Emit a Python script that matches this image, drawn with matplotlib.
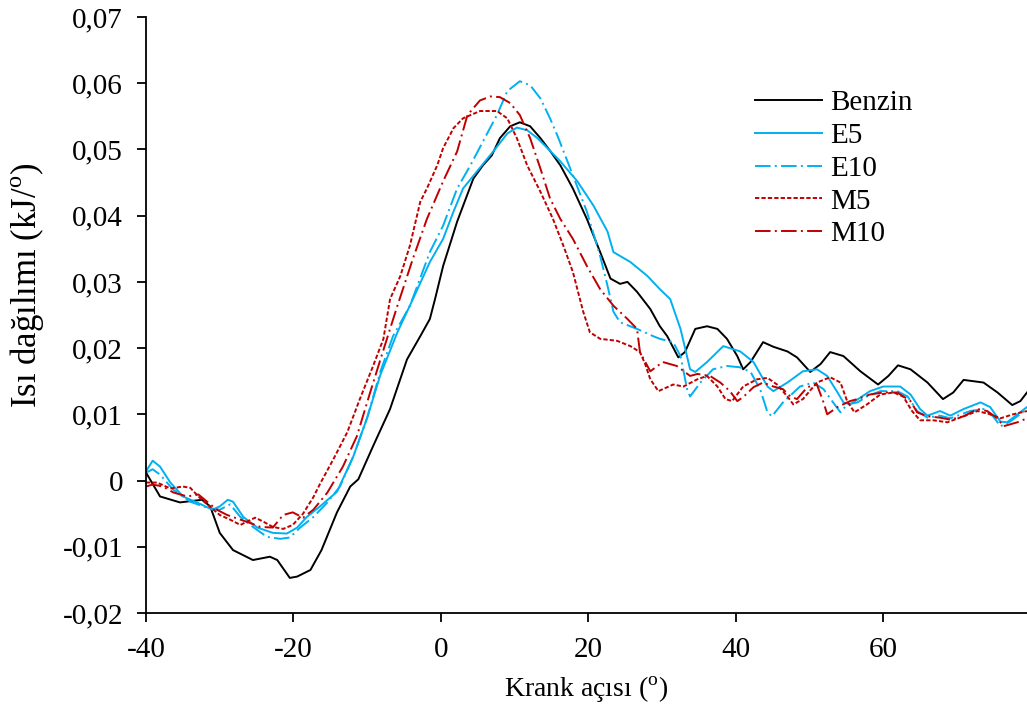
import matplotlib
matplotlib.use('Agg')
import matplotlib.pyplot as plt
from matplotlib.ticker import FuncFormatter

plt.rcParams['font.family'] = ['Liberation Serif', 'DejaVu Serif']
plt.rcParams['mathtext.fontset'] = 'custom'
plt.rcParams['mathtext.rm'] = 'Liberation Serif'
plt.rcParams['axes.unicode_minus'] = False

# Benzin
benzin_x = [-40, -38.1, -35.4, -32.4, -31.3, -30.0, -28.2, -25.5, -23.2, -22.2,
            -20.5, -19.5, -17.7, -16.2, -14.1, -12.3, -11.2, -9.2, -6.9, -4.6,
            -2.8, -1.5, -0.8, 0.3, 2.2, 4.4, 5.7, 6.9, 8.0, 9.4,
            10.7, 12.1, 13.5, 14.8, 16.2, 17.9, 19.8, 21.6, 23.0, 24.3,
            25.3, 26.6, 28.4, 29.7, 30.7, 32.2, 33.1, 34.5, 36.1, 37.5,
            38.8, 40.2, 41.0, 42.0, 43.7, 45.1, 47.0, 48.3, 50.1, 51.5,
            52.8, 54.6, 56.9, 59.3, 60.7, 62.0, 63.7, 66.0, 68.1, 69.5,
            70.9, 73.6, 75.5, 77.5, 78.6, 79.5]
benzin_y = [0.0012, -0.0024, -0.0033, -0.0029, -0.0039, -0.0079, -0.0105, -0.0120, -0.0115, -0.0120,
            -0.0147, -0.0145, -0.0135, -0.0105, -0.0048, -0.0009, 0.0002, 0.0052, 0.0108, 0.0183,
            0.0218, 0.0244, 0.0274, 0.0324, 0.0391, 0.0456, 0.0476, 0.0491, 0.0517, 0.0535,
            0.0541, 0.0535, 0.0517, 0.0498, 0.0476, 0.0441, 0.0395, 0.0345, 0.0305, 0.0297,
            0.0300, 0.0285, 0.0259, 0.0233, 0.0218, 0.0186, 0.0194, 0.0229, 0.0233, 0.0229,
            0.0214, 0.0188, 0.0168, 0.0179, 0.0209, 0.0202, 0.0195, 0.0186, 0.0164, 0.0176,
            0.0194, 0.0188, 0.0165, 0.0145, 0.0158, 0.0174, 0.0168, 0.0148, 0.0123, 0.0133,
            0.0152, 0.0148, 0.0133, 0.0114, 0.0120, 0.0133]

# E5
e5_x = [-40, -39.1, -38.1, -36.7, -35.0, -33.1, -31.0, -30.0, -28.9, -28.2,
        -26.8, -24.9, -22.8, -20.9, -19.5, -18.2, -16.4, -14.1, -11.9, -10.0,
        -8.2, -5.9, -3.8, -1.5, 0.3, 1.7, 3.0, 4.9, 7.1, 9.0,
        10.3, 11.7, 13.1, 14.8, 16.2, 18.5, 20.7, 22.6, 23.4, 25.7,
        28.0, 29.7, 31.1, 32.5, 33.8, 34.5, 36.1, 38.3, 40.6, 42.4,
        44.3, 45.1, 47.0, 49.1, 51.0, 52.4, 53.8, 54.6, 55.5, 58.2,
        60.0, 62.3, 63.7, 65.0, 66.0, 67.7, 69.1, 70.9, 73.2, 74.5,
        75.9, 76.8, 78.2, 79.5]
e5_y = [0.0014, 0.0030, 0.0021, -0.0003, -0.0024, -0.0033, -0.0044, -0.0039, -0.0029, -0.0032,
        -0.0055, -0.0071, -0.0079, -0.0080, -0.0071, -0.0055, -0.0039, -0.0017, 0.0036, 0.0095,
        0.0160, 0.0224, 0.0274, 0.0330, 0.0365, 0.0406, 0.0441, 0.0467, 0.0497, 0.0524,
        0.0533, 0.0529, 0.0517, 0.0498, 0.0482, 0.0452, 0.0415, 0.0376, 0.0345, 0.0330,
        0.0309, 0.0289, 0.0274, 0.0229, 0.0168, 0.0164, 0.0179, 0.0203, 0.0195, 0.0179,
        0.0142, 0.0135, 0.0148, 0.0165, 0.0168, 0.0158, 0.0133, 0.0118, 0.0115, 0.0135,
        0.0142, 0.0142, 0.0130, 0.0108, 0.0098, 0.0105, 0.0098, 0.0108, 0.0118, 0.0111,
        0.0089, 0.0088, 0.0100, 0.0111]

# E10
e10_x = [-40, -39.1, -38.1, -36.3, -34.0, -31.7, -30.0, -28.6, -27.2, -25.5,
         -23.6, -21.8, -20.5, -19.1, -17.3, -15.4, -13.7, -11.9, -10.0, -8.2,
         -6.5, -4.2, -1.5, 0.3, 2.2, 4.0, 5.7, 7.6, 9.0, 10.7,
         12.1, 13.5, 14.8, 15.8, 17.9, 19.8, 21.6, 22.6, 23.4, 24.3,
         26.6, 28.8, 29.7, 31.5, 32.5, 33.4, 33.8, 35.2, 36.9, 38.8,
         40.6, 42.0, 43.3, 44.3, 44.9, 46.4, 48.7, 50.5, 51.9, 53.2,
         54.2, 55.1, 56.5, 57.8, 59.6, 61.9, 63.3, 64.6, 66.0, 67.7,
         69.1, 71.8, 73.6, 74.9, 75.9, 77.2, 79.5]
e10_y = [0.0012, 0.0017, 0.0009, -0.0014, -0.0032, -0.0041, -0.0044, -0.0036, -0.0055, -0.0070,
         -0.0085, -0.0088, -0.0086, -0.0071, -0.0055, -0.0033, -0.0009, 0.0036, 0.0095, 0.0165,
         0.0218, 0.0264, 0.0345, 0.0385, 0.0441, 0.0476, 0.0512, 0.0552, 0.0588, 0.0603,
         0.0597, 0.0577, 0.0547, 0.0521, 0.0461, 0.0406, 0.0339, 0.0294, 0.0255, 0.0239,
         0.0229, 0.0218, 0.0214, 0.0209, 0.0188, 0.0138, 0.0127, 0.0148, 0.0168, 0.0173,
         0.0171, 0.0164, 0.0138, 0.0103, 0.0097, 0.0118, 0.0142, 0.0148, 0.0138, 0.0118,
         0.0103, 0.0115, 0.0118, 0.0127, 0.0135, 0.0135, 0.0127, 0.0105, 0.0095, 0.0098,
         0.0094, 0.0105, 0.0108, 0.0097, 0.0082, 0.0089, 0.0108]

# M5
m5_x = [-40, -38.5, -36.7, -35.0, -34.0, -32.9, -31.7, -30.0, -28.6, -27.2,
        -26.3, -25.2, -24.1, -22.8, -21.4, -20.1, -18.7, -17.3, -16.4, -14.6,
        -12.7, -11.0, -9.2, -7.8, -6.9, -5.5, -4.2, -2.8, -1.9, -0.5,
        0.3, 1.7, 3.0, 5.3, 7.6, 9.0, 10.3, 11.7, 13.5, 15.2,
        16.6, 17.9, 19.3, 20.2, 21.6, 23.9, 25.7, 27.0, 27.7, 28.4,
        29.5, 31.5, 32.9, 34.8, 36.1, 37.5, 38.6, 39.5, 41.0, 42.9,
        44.3, 45.6, 47.0, 47.8, 49.1, 51.0, 52.8, 54.2, 55.1, 56.1,
        57.8, 59.6, 61.4, 62.7, 63.9, 65.0, 66.8, 68.7, 70.9, 72.8,
        74.5, 75.9, 77.6, 79.5]
m5_y = [-0.0003, -0.0003, -0.0012, -0.0009, -0.0011, -0.0024, -0.0036, -0.0052, -0.0059, -0.0067,
        -0.0062, -0.0056, -0.0062, -0.0070, -0.0073, -0.0067, -0.0050, -0.0025, -0.0005, 0.0032,
        0.0073, 0.0123, 0.0173, 0.0214, 0.0274, 0.0309, 0.0355, 0.0421, 0.0441, 0.0476,
        0.0502, 0.0532, 0.0547, 0.0558, 0.0558, 0.0547, 0.0517, 0.0476, 0.0436, 0.0395,
        0.0355, 0.0315, 0.0255, 0.0224, 0.0214, 0.0211, 0.0203, 0.0194, 0.0176, 0.0153,
        0.0135, 0.0145, 0.0142, 0.0153, 0.0158, 0.0142, 0.0123, 0.0120, 0.0142, 0.0153,
        0.0155, 0.0145, 0.0127, 0.0115, 0.0123, 0.0148, 0.0156, 0.0148, 0.0120, 0.0103,
        0.0115, 0.0130, 0.0133, 0.0127, 0.0105, 0.0091, 0.0091, 0.0088, 0.0097, 0.0105,
        0.0100, 0.0094, 0.0100, 0.0105]

# M10
m10_x = [-40, -39.1, -37.7, -36.3, -34.4, -32.9, -31.7, -30.4, -29.0, -27.2,
         -25.9, -24.5, -22.8, -21.4, -20.1, -18.7, -17.3, -15.4, -13.3, -11.4,
         -9.6, -8.2, -6.9, -5.9, -3.8, -1.9, 0.3, 2.2, 3.6, 5.3,
         6.7, 8.0, 9.4, 10.7, 12.1, 13.5, 14.8, 16.2, 17.9, 19.8,
         21.6, 23.4, 25.3, 26.6, 27.0, 28.4, 30.1, 32.0, 33.8, 34.8,
         36.5, 37.9, 39.2, 40.2, 41.0, 42.4, 43.7, 45.1, 46.4, 47.4,
         48.3, 49.7, 51.0, 51.9, 52.4, 53.8, 55.5, 56.5, 58.2, 60.0,
         61.9, 63.7, 64.6, 66.0, 67.7, 69.1, 70.9, 72.8, 74.1, 75.5,
         76.3, 78.2, 79.5]
m10_y = [-0.0009, -0.0006, -0.0009, -0.0018, -0.0024, -0.0021, -0.0032, -0.0044, -0.0052, -0.0059,
         -0.0064, -0.0070, -0.0071, -0.0052, -0.0048, -0.0056, -0.0044, -0.0018, 0.0021, 0.0067,
         0.0133, 0.0183, 0.0229, 0.0264, 0.0335, 0.0395, 0.0452, 0.0497, 0.0552, 0.0574,
         0.0580, 0.0579, 0.0570, 0.0552, 0.0517, 0.0471, 0.0426, 0.0395, 0.0365, 0.0324,
         0.0289, 0.0264, 0.0244, 0.0229, 0.0194, 0.0165, 0.0179, 0.0173, 0.0158, 0.0161,
         0.0158, 0.0148, 0.0135, 0.0120, 0.0126, 0.0141, 0.0148, 0.0142, 0.0138, 0.0127,
         0.0123, 0.0141, 0.0145, 0.0118, 0.0100, 0.0111, 0.0120, 0.0123, 0.0130, 0.0133,
         0.0133, 0.0120, 0.0103, 0.0097, 0.0095, 0.0092, 0.0097, 0.0108, 0.0105, 0.0094,
         0.0082, 0.0088, 0.0094]

x_ticks = [-40, -20, 0, 20, 40, 60]
y_ticks = [-0.02, -0.01, 0, 0.01, 0.02, 0.03, 0.04, 0.05, 0.06, 0.07]

blue = '#00b0f0'
red = '#c00000'
lw = 1.4

fig = plt.figure(figsize=(10.27, 7.2), dpi=100)
ax = fig.add_axes([0.1422, 0.1486, 0.8578, 0.8278])

ax.plot(benzin_x, benzin_y, color='black', lw=lw, label='Benzin')
ax.plot(e5_x, e5_y, color=blue, lw=lw, label='E5')
ax.plot(e10_x, e10_y, color=blue, lw=lw, ls=(0, (8, 2.2, 1, 2.2)), label='E10')
ax.plot(m5_x, m5_y, color=red, lw=lw, ls=(0, (2.2, 1.1)), label='M5')
ax.plot(m10_x, m10_y, color=red, lw=lw, ls=(0, (8, 2.2, 1, 2.2)), label='M10')

ax.set_xlim(-40, 79.5)
ax.set_ylim(-0.02, 0.07)
ax.set_xticks(x_ticks)
ax.set_yticks(y_ticks)
ax.yaxis.set_major_formatter(FuncFormatter(
    lambda v, p: '0' if abs(v) < 1e-9 else ('%.2f' % v).replace('.', ',')))

for s in ['top', 'right']:
    ax.spines[s].set_visible(False)
for s in ['left', 'bottom']:
    ax.spines[s].set_linewidth(1.3)
ax.tick_params(direction='out', length=6.5, width=1.3, labelsize=21)
ax.tick_params(axis='y', pad=10)
ax.tick_params(axis='x', pad=11)

ax.set_xlabel('Krank açısı ($^{\\mathrm{o}}$)', fontsize=20, labelpad=8)
ax.set_ylabel('Isı dağılımı (kJ/$^{\\mathrm{o}}$)', fontsize=25)
ax.yaxis.set_label_coords(-0.113, 0.55)

ax.legend(loc='upper left', bbox_to_anchor=(0.691, 0.878), frameon=False,
          fontsize=21, handlelength=2.3, handletextpad=0.3, labelspacing=0.22,
          borderpad=0, borderaxespad=0)

fig.savefig('out.png', dpi=100)
